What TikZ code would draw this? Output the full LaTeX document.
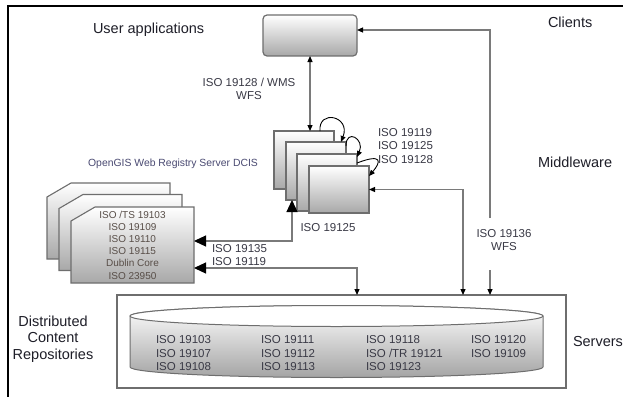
\documentclass[tikz,border=0pt]{standalone}
\usepackage{fontspec}
\setmainfont{Liberation Sans}
\usetikzlibrary{arrows.meta,calc}
\pgfdeclarelayer{bg}
\pgfsetlayers{bg,main}

\definecolor{wiregray}{HTML}{7A7A7A}
\definecolor{boxborder}{HTML}{6E6E6E}
\definecolor{shadegray}{HTML}{A8A8A8}
\definecolor{cylgray}{HTML}{A4A4A4}
\definecolor{labelc}{HTML}{1E1E28}
\definecolor{isoc}{HTML}{3A3A46}
\definecolor{ogcc}{HTML}{4A4A72}
\definecolor{doctext}{HTML}{584E48}

\tikzset{
  stip/.tip={Triangle[length=6pt,width=5pt,color=black]},
  btip/.tip={Triangle[length=12pt,width=11pt,color=black]},
}

\begin{document}
\begin{tikzpicture}[x=1pt,y=-1pt,
  every node/.style={inner sep=0pt,outer sep=0pt},
  wire/.style={draw=wiregray,line width=1.2pt},
  loopline/.style={draw=black,line width=0.9pt},
  sect/.style={font=\fontsize{14.5}{16.5}\selectfont,text=labelc},
  isolab/.style={font=\fontsize{11.5}{13.5}\selectfont,text=isoc},
  cbox/.style={draw=boxborder,line width=1.2pt,rounded corners=4pt,
    top color=white,bottom color=shadegray},
  mwbox/.style={draw=boxborder,line width=1.1pt,
    top color=white,bottom color=shadegray,minimum width=60},
  docnode/.style={minimum width=123,minimum height=76},
  docfill/.style={draw=boxborder,line width=1.1pt,
    top color=white,bottom color=shadegray},
]
\useasboundingbox (0,0) rectangle (623,396);

% page frame
\draw[line width=2.6pt] (8,400) -- (8,6) -- (630,6);

% client application
\node[cbox,minimum width=94,minimum height=41] (client) at (310,35.5) {};

% stack of registry servers
\node[mwbox,minimum height=58] (b1) at (304,160) {};
\node[mwbox,minimum height=58] (b2) at (316,171) {};
\node[mwbox,minimum height=57] (b3) at (327,182.5) {};
\node[mwbox,minimum height=47] (b4) at (339,189.5) {};

% catalogue documents
\node[docnode] (d1) at (108.5,221) {};
\node[docnode] (d2) at (120.5,232.5) {};
\node[docnode,align=center,font=\fontsize{10}{12.2}\selectfont,text=doctext]
  (d3) at (132.5,245) {ISO /TS 19103\\ISO 19109\\ISO 19110\\ISO 19115\\Dublin Core\\ISO 23950};
\begin{pgfonlayer}{bg}
  \fill[white] (0,0) rectangle (623,396);
  \foreach \d in {d1,d2,d3}
    \path[docfill] (\d.south west) -- ($(\d.north west)+(0,14)$)
      -- ($(\d.north west)+(24,0)$) -- (\d.north east) -- (\d.south east) -- cycle;
\end{pgfonlayer}

% server tier with the data store
\node[draw=boxborder,line width=1.1pt,minimum width=449,minimum height=93] (srv) at (341.5,341.5) {};
\path[draw=boxborder,line width=1pt,top color=white,bottom color=cylgray]
  (130,316) -- (130,367) arc[start angle=180,end angle=0,x radius=206.5,y radius=10.5]
  -- (543,316) arc[start angle=0,end angle=-180,x radius=206.5,y radius=10.5] -- cycle;
\draw[draw=boxborder,line width=1pt,fill=white] (336.5,316) ellipse [x radius=206.5,y radius=10.5];

\node[isolab,align=left,anchor=west] (c1) at (156,353.5) {ISO 19103\\ISO 19107\\ISO 19108};
\node[isolab,align=left,anchor=west] (c2) at (261,353.5) {ISO 19111\\ISO 19112\\ISO 19113};
\node[isolab,align=left,anchor=west] (c3) at (366,353.5) {ISO 19118\\ISO /TR 19121\\ISO 19123};
\node[isolab,align=left,anchor=west] (c4) at (471,346.75) {ISO 19120\\ISO 19109};

% tier labels
\node[sect,anchor=west] (lUser) at (93,30) {User applications};
\node[sect,anchor=west] (lClients) at (548,22) {Clients};
\node[sect,anchor=west] (lMid) at (538,162) {Middleware};
\node[sect,anchor=west] (lSrv) at (573,342) {Servers};
\node[sect,align=center] (lDist) at (53,339) {Distributed\\Content\\Repositories};

% interface labels
\node[isolab,align=center] (lWMS) at (249,89) {ISO 19128 / WMS\\WFS};
\node[isolab,align=left,anchor=west] (lMidIso) at (378,146) {ISO 19119\\ISO 19125\\ISO 19128};
\node[isolab] (l19125) at (328,228) {ISO 19125};
\node[font=\fontsize{10.4}{12}\selectfont,text=ogcc] (lOGC) at (173,164) {OpenGIS Web Registry Server DCIS};
\node[isolab,anchor=west] (l19135) at (212,249) {ISO 19135};
\node[isolab,anchor=west] (l19119) at (212,262) {ISO 19119};
\node[isolab,align=center] (l19136) at (504,240) {ISO 19136\\WFS};

% connection points
\coordinate (sA) at ($(srv.north west)+(240,0)$);
\coordinate (sB) at ($(srv.north west)+(346,0)$);
\coordinate (sC) at ($(srv.north west)+(373,0)$);
\coordinate (wfsTop) at (490,218);
\coordinate (wfsBot) at (490,270);

% connectors
\draw[wire,stip-stip] (client.south) -- (client.south |- b1.north);
\draw[wire,-stip] (wfsTop) |- ([yshift=5.5pt]client.east);
\draw[wire,-stip] (wfsBot) -- (sC);
\draw[wire,stip-stip] (b4.east) -| (sB);
\draw[wire,btip-btip] ([yshift=4pt]d3.east) -| ([xshift=6pt]b2.south west);
\draw[wire,btip-stip] ([yshift=-23pt]d3.east) -| (sA);

% registry self references
\draw[loopline,-stip] ([xshift=-14pt]b1.north east) .. controls +(-2,-22) and +(10,-26) .. ([xshift=-5pt]b2.north east);
\draw[loopline,-stip] ([yshift=-4pt]b2.north east) .. controls +(0,-18) and +(8,-18) .. ([yshift=-3pt]b3.north east);
\draw[loopline,-stip] ([yshift=-9pt]b3.north east) .. controls +(26,-10) and +(12,-14) .. ([yshift=-10pt]b4.north east);
\end{tikzpicture}
\end{document}
